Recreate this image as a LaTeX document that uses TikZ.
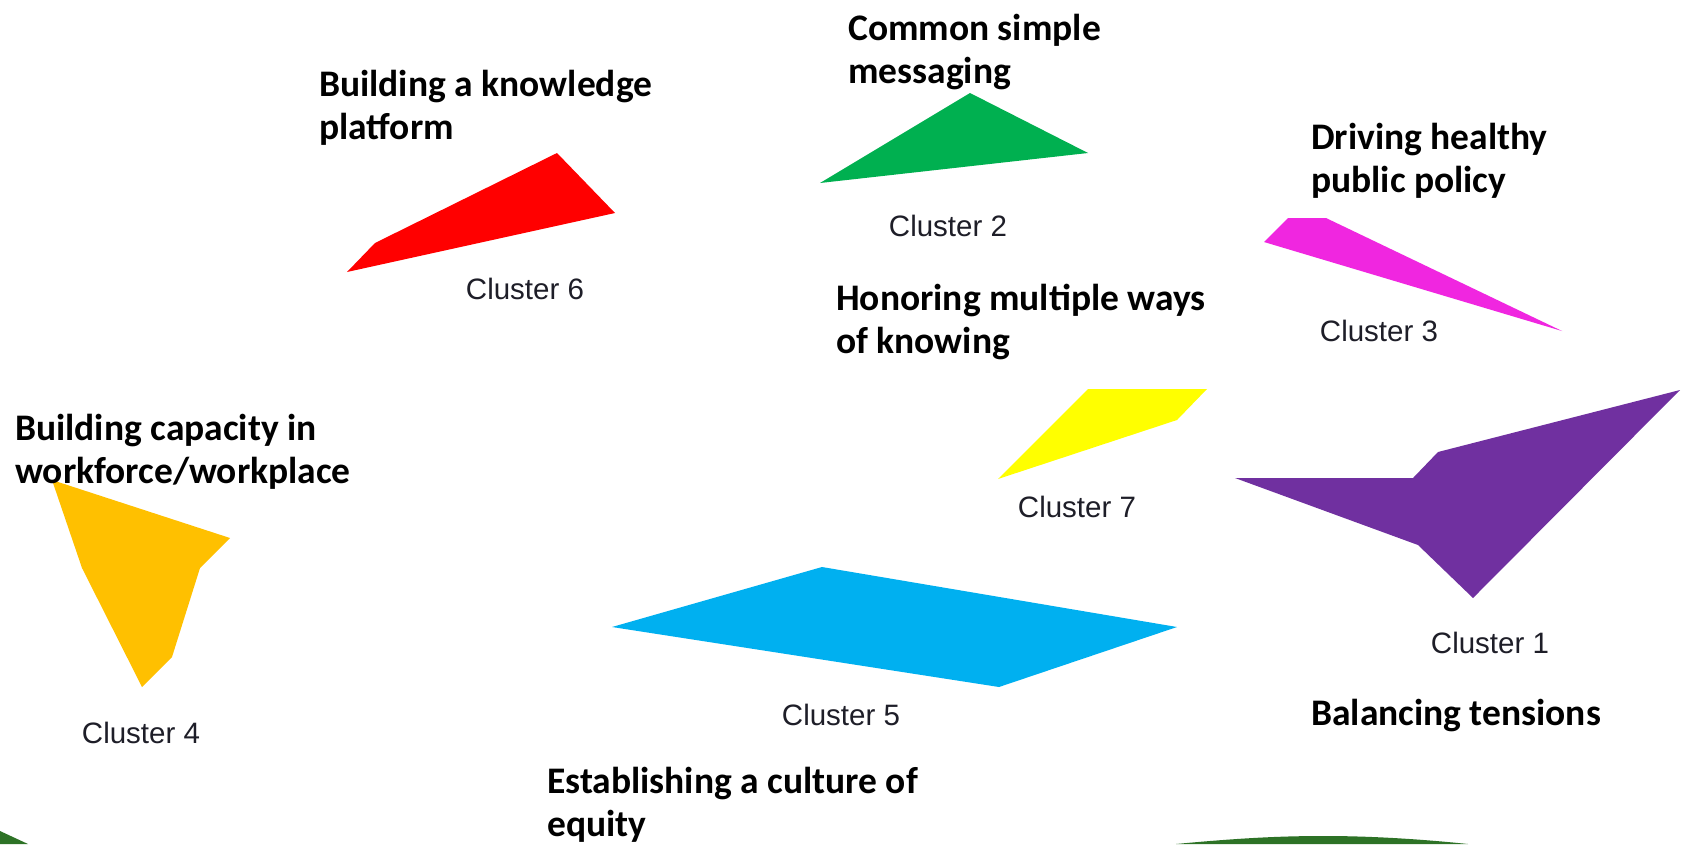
\documentclass[tikz,border=0pt]{standalone}
\usepackage{fontspec}
\setmainfont{Carlito}
\newfontfamily\clfont{Liberation Sans}
\definecolor{cOrange}{RGB}{255,192,0}
\definecolor{cPurple}{RGB}{112,48,160}
\definecolor{cRed}{RGB}{255,0,0}
\definecolor{cGreen}{RGB}{0,176,80}
\definecolor{cMagenta}{RGB}{240,38,224}
\definecolor{cYellow}{RGB}{255,255,0}
\definecolor{cCyan}{RGB}{0,176,240}
\definecolor{cDark}{RGB}{45,114,38}
\definecolor{cLabel}{RGB}{30,30,40}
\tikzset{
  title/.style={anchor=north west, align=left, inner sep=0pt, font=\fontsize{37.5}{43}\selectfont\bfseries, text=black},
  clabel/.style={inner sep=0pt, font=\clfont\fontsize{29.5}{33}\selectfont, text=cLabel},
}
\begin{document}
\begin{tikzpicture}[x=1pt,y=-1pt]
\useasboundingbox (0,0) rectangle (1689,844);
\fill[white] (0,0) rectangle (1689,844);
% green decorations at bottom
\fill[cDark] (0,831) -- (28,844) -- (0,844) -- cycle;
\fill[cDark] (1176,844) .. controls (1250,837) and (1290,836) .. (1325,836) .. controls (1370,836) and (1420,839) .. (1468,844) -- cycle;
% clusters
\fill[cOrange] (52,480) -- (230,538) -- (200,568) -- (172,657) -- (142,687) -- (82,568) -- cycle;
\fill[cPurple] (1235,478) -- (1413,478) -- (1438,452) -- (1680,390) -- (1473,598) -- (1418,545) -- cycle;
\fill[cRed] (347,272) -- (375,243) -- (557,153) -- (615,213) -- cycle;
\fill[cGreen] (820,183) -- (970,93) -- (1088,153) -- cycle;
\fill[cMagenta] (1264,242) -- (1288,218) -- (1326,218) -- (1562,331) -- cycle;
\fill[cYellow] (998,479) -- (1088,389) -- (1207,389) -- (1177,420) -- cycle;
\fill[cCyan] (612,627) -- (822,567) -- (1177,627) -- (999,687) -- cycle;
% cluster labels
\node[clabel] (c6) at (525,289) {Cluster 6};
\node[clabel] (c2) at (948,226) {Cluster 2};
\node[clabel] (c3) at (1379,331) {Cluster 3};
\node[clabel] (c7) at (1077,507) {Cluster 7};
\node[clabel] (c1) at (1490,643) {Cluster 1};
\node[clabel] (c4) at (141,733) {Cluster 4};
\node[clabel] (c5) at (841,715) {Cluster 5};
% titles
\node[title] (t6) at (319,70) {Building a knowledge\\platform};
\node[title] (t2) at (848,14) {Common simple\\messaging};
\node[title] (t3) at (1311,123) {Driving healthy\\public policy};
\node[title] (t7) at (836,284) {Honoring multiple ways\\of knowing};
\node[title] (t4) at (15,414) {Building capacity in\\workforce/workplace};
\node[title] (t1) at (1311,699) {Balancing tensions};
\node[title] (t5) at (547,767) {Establishing a culture of\\equity};
\end{tikzpicture}
\end{document}
